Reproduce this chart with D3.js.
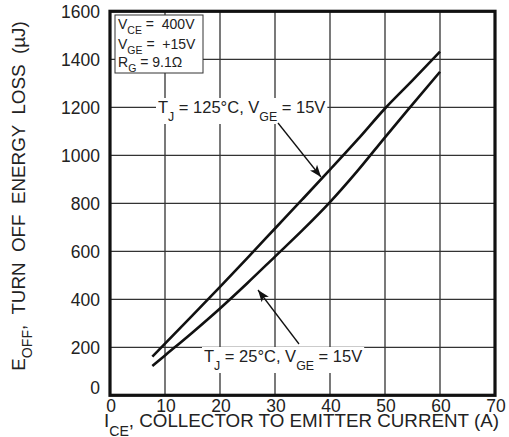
<!DOCTYPE html>
<html lang="en">
  <head>
    <meta charset="UTF-8" />
    <title>Turn Off Energy Loss vs Collector Current</title>
    <script src="https://d3js.org/d3.v7.min.js"></script>
    <style>
      body {
        margin: 0;
        padding: 0;
        background: #fff;
      }
      svg {
        display: block;
        font-family: "Liberation Sans", Arial, sans-serif;
      }
      text {
        white-space: pre;
      }
      .tick-label {
        font-size: 17.5px;
        fill: #222;
      }
      .axis-title {
        font-size: 18.8px;
        fill: #222;
      }
      .note {
        font-size: 16.5px;
        fill: #222;
      }
      .cond {
        font-size: 14px;
        fill: #222;
      }
    </style>
  </head>
  <body>
    <svg width="509" height="437"></svg>
    <script>
      const width = 509,
        height = 437;
      const svg = d3.select("svg");

      // data
      const xTicks = [0, 10, 20, 30, 40, 50, 60, 70];
      const yTicks = [0, 200, 400, 600, 800, 1000, 1200, 1400, 1600];
      const current = [7.7, 10, 15, 20, 25, 30, 35, 40, 45, 50, 55, 60];
      const eoff125 = [161, 215, 333, 452, 573, 695, 817, 940, 1065, 1195, 1312, 1432];
      const eoff25 = [122, 166, 262, 362, 468, 578, 688, 805, 935, 1075, 1212, 1348];

      const x = d3.scaleLinear().domain([0, 70]).range([110, 495]);
      const y = d3.scaleLinear().domain([0, 1600]).range([395.3, 11.3]);
      const plotH = y(0) - y(1600),
        plotW = x(70) - x(0);

      // tick labels
      svg
        .append("g")
        .selectAll("text")
        .data(xTicks)
        .join("text")
        .attr("class", "tick-label")
        .attr("x", (d) => x(d) + 1)
        .attr("y", 412)
        .attr("text-anchor", "middle")
        .text((d) => d);
      svg
        .append("g")
        .selectAll("text")
        .data(yTicks)
        .join("text")
        .attr("class", "tick-label")
        .attr("x", 100)
        .attr("y", (d) => (d === 0 ? 393.5 : y(d) + 6.5))
        .attr("text-anchor", "end")
        .text((d) => d);

      // grid as one path
      const gridPath = d3.path();
      xTicks.slice(1, -1).forEach((d) => {
        gridPath.moveTo(x(d), y(1600));
        gridPath.lineTo(x(d), y(0));
      });
      yTicks.slice(1, -1).forEach((d) => {
        gridPath.moveTo(x(0), y(d));
        gridPath.lineTo(x(70), y(d));
      });
      svg
        .append("path")
        .attr("d", gridPath.toString())
        .attr("fill", "none")
        .attr("stroke", "#333")
        .attr("stroke-width", 1.3);

      // curves
      const curve = d3
        .line()
        .x((d) => x(d[0]))
        .y((d) => y(d[1]))
        .curve(d3.curveMonotoneX);
      [eoff125, eoff25].forEach((s) => {
        svg
          .append("path")
          .datum(current.map((c, i) => [c, s[i]]))
          .attr("d", curve)
          .attr("fill", "none")
          .attr("stroke", "#111")
          .attr("stroke-width", 2.6);
      });

      // text with subscripts
      function note(cx, cy, parts, cls, sd) {
        sd = sd || 8;
        const t = svg
          .append("text")
          .attr("class", cls)
          .attr("x", cx)
          .attr("y", cy);
        let back = 0;
        parts.forEach((p) => {
          if (p.sub) {
            t.append("tspan").attr("dy", sd).attr("font-size", "0.75em").text(p.sub);
            back = -sd;
          } else {
            t.append("tspan").attr("dy", back).text(p.t);
            back = 0;
          }
        });
        return t;
      }
      function backed(t, px) {
        const b = t.node().getBBox();
        svg
          .insert("rect", () => t.node())
          .attr("x", b.x - px)
          .attr("y", b.y)
          .attr("width", b.width + 2 * px)
          .attr("height", b.height)
          .attr("fill", "#fff");
      }

      const n125 = note(
        158,
        113,
        [{ t: "T" }, { sub: "J" }, { t: " = 125°C, V" }, { sub: "GE" }, { t: " = 15V" }],
        "note"
      );
      backed(n125, 2);
      const n25 = note(
        204,
        362,
        [{ t: "T" }, { sub: "J" }, { t: " = 25°C, V" }, { sub: "GE" }, { t: " = 15V" }],
        "note"
      );
      backed(n25, 2);

      // arrows, heads drawn as small triangles
      function arrow(x1, y1, x2, y2) {
        svg
          .append("line")
          .attr("x1", x1)
          .attr("y1", y1)
          .attr("x2", x2)
          .attr("y2", y2)
          .attr("stroke", "#111")
          .attr("stroke-width", 1.3);
        const a = (Math.atan2(y2 - y1, x2 - x1) * 180) / Math.PI;
        svg
          .append("path")
          .attr("d", "M0,0 L-12,-4.5 L-9,0 L-12,4.5 Z")
          .attr("fill", "#111")
          .attr("transform", `translate(${x2},${y2}) rotate(${a})`);
      }
      arrow(278, 123, 321, 177);
      arrow(299, 344, 258, 290);

      // conditions box
      svg
        .append("rect")
        .attr("x", 115)
        .attr("y", 15)
        .attr("width", 88)
        .attr("height", 58)
        .attr("fill", "#fff")
        .attr("stroke", "#333")
        .attr("stroke-width", 1);
      note(118, 29, [{ t: "V" }, { sub: "CE" }, { t: " =  400V" }], "cond", 5);
      note(118, 48.5, [{ t: "V" }, { sub: "GE" }, { t: " =  +15V" }], "cond", 5);
      note(118, 67, [{ t: "R" }, { sub: "G" }, { t: " = 9.1Ω" }], "cond", 5);

      // frame
      svg
        .append("rect")
        .attr("x", x(0))
        .attr("y", y(1600))
        .attr("width", plotW)
        .attr("height", plotH)
        .attr("fill", "none")
        .attr("stroke", "#111")
        .attr("stroke-width", 3.2);

      // axis titles
      note(104, 427, [{ t: "I" }, { sub: "CE" }, { t: ", COLLECTOR TO EMITTER CURRENT (A)" }], "axis-title", 9);
      note(0, 0, [{ t: "E" }, { sub: "OFF" }, { t: ",  TURN  OFF  ENERGY  LOSS  (µJ)" }], "axis-title", 7)
        .attr("text-anchor", "middle")
        .attr("transform", "translate(25,196) rotate(-90)");
    </script>
  </body>
</html>
